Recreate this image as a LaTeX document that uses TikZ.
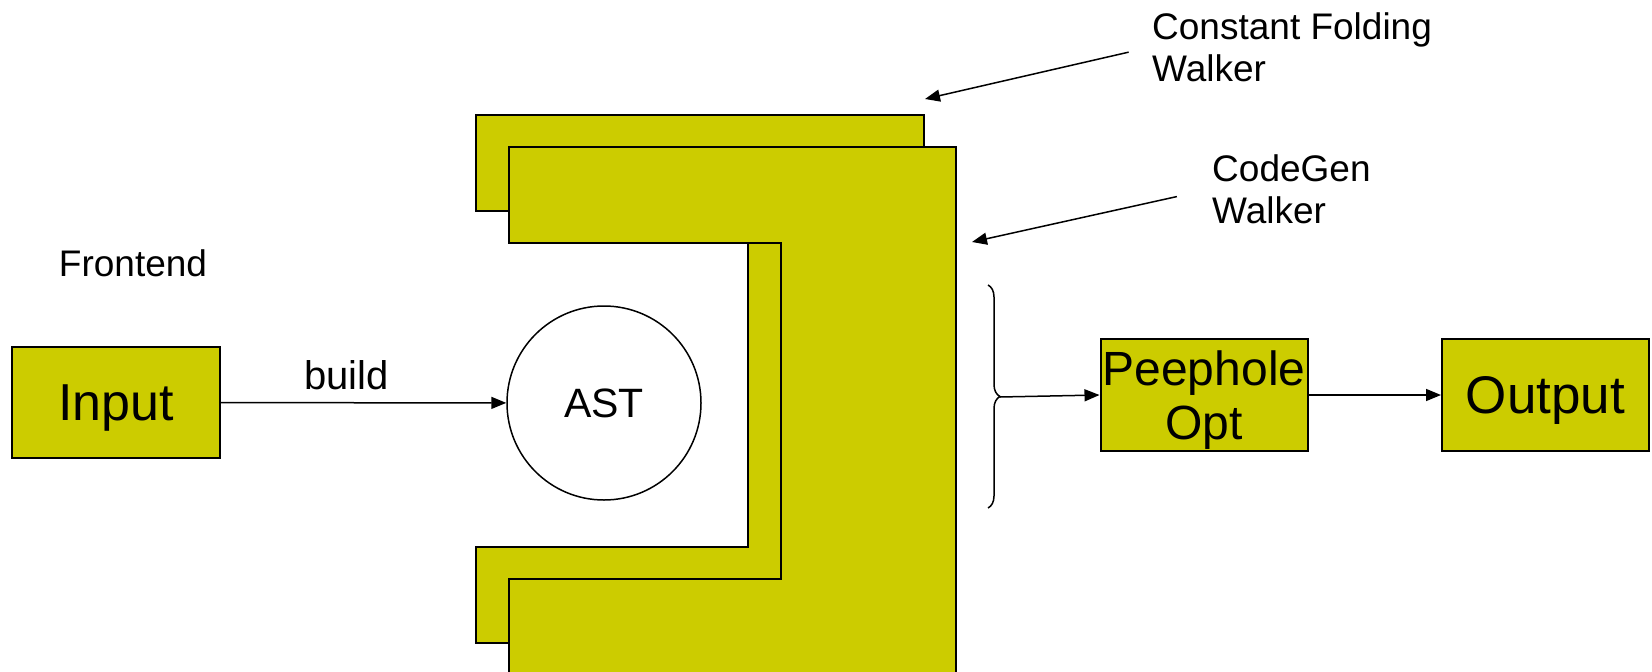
\documentclass[tikz,border=0pt]{standalone}
\usepackage{fontspec}
\setmainfont{Liberation Sans}
\usetikzlibrary{positioning,arrows.meta,decorations.pathreplacing}
\definecolor{walker}{RGB}{204,204,0}

\begin{document}
\begin{tikzpicture}[x=1pt,y=-1pt,
  blk/.style={draw,fill=walker,line width=2pt,minimum width=207pt,minimum height=112pt,inner sep=0pt,align=center,text depth=0pt},
  pass/.style={draw,fill=walker,line width=2pt},
  flow/.style={-{Triangle[length=15pt,width=12pt]},line width=1.5pt},
  lbl/.style={inner sep=0pt,align=left,font=\fontsize{37}{42}\selectfont}]
  \useasboundingbox (0,0) rectangle (1652,672);

  % the two walkers, back one first
  \draw[pass] (476,115) -- (924,115) -- (924,643) -- (476,643) -- (476,547) -- (748,547) -- (748,211) -- (476,211) -- cycle;
  \draw[pass] (509,147) -- (956,147) -- (956,700) -- (509,700) -- (509,579) -- (781,579) -- (781,243) -- (509,243) -- cycle;

  \node[blk,minimum width=208pt,minimum height=111pt,font=\fontsize{52}{60}\selectfont] (input) at (116,402.5) {Input};
  \node[draw,circle,line width=1.5pt,minimum size=194pt,inner sep=0pt,font=\fontsize{41}{48}\selectfont] (ast) at (604,403) {AST};
  \node[blk,font=\fontsize{48}{54}\selectfont] (peep) at (1204,395) {Peephole\\Opt};
  \node[blk,font=\fontsize{53}{60}\selectfont] (output) at (1545.5,395) {Output};

  \node[lbl,anchor=base] (frontend) at (133,276) {Frontend};
  \node[lbl,anchor=base west] (cfold) at (1152,81) {Constant Folding\\Walker};
  \node[lbl,anchor=base west] (codegen) at (1212,223) {CodeGen\\Walker};
  \coordinate (cfoldend) at (925,99);
  \coordinate (codegenend) at (972,242);
  \coordinate (tip) at (1000,397);

  \draw[flow] (input) -- node[pos=0.44,above=12pt,inner sep=0pt,font=\fontsize{40}{48}\selectfont] {build} (ast);
  \draw[flow,shorten <=24pt] (cfold.west) -- (cfoldend);
  \draw[flow,shorten <=36pt] (codegen.west) -- (codegenend);
  \draw[decorate,decoration={brace,amplitude=12pt},line width=1.5pt] (988,285) -- (988,508);
  \draw[flow] (tip) -- (peep.west);
  \draw[flow] (peep) -- (output);
\end{tikzpicture}
\end{document}
